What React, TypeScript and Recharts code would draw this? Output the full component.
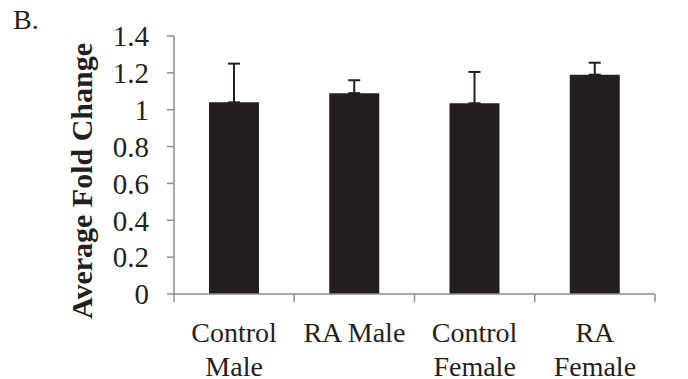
import { BarChart, Bar, XAxis, YAxis, ErrorBar } from 'recharts';

// values (panel B)
const groups = ['Control Male', 'RA Male', 'Control Female', 'RA Female'];
const groupLines = [['Control', 'Male'], ['RA Male'], ['Control', 'Female'], ['RA', 'Female']];
const foldChange = [1.04, 1.09, 1.035, 1.19];
const errorUp = [0.21, 0.07, 0.17, 0.065];
const yTicks = [0, 0.2, 0.4, 0.6, 0.8, 1, 1.2, 1.4];

const data = groups.map((group, i) => ({
  group,
  value: foldChange[i],
  err: [0, errorUp[i]]
}));

const INK = '#231f20';
const AXIS = '#8c8c8c';
const SERIF = "'Liberation Serif', serif";

function GroupTick({ x, y, index, visibleTicksCount }: any) {
  const count = visibleTicksCount ?? groups.length;
  const band = 481 / count;
  const left = x - band / 2;
  const lines = groupLines[index] ?? [];
  return (
    <g>
      <line x1={left} y1={y} x2={left} y2={y + 8} stroke={AXIS} strokeWidth={1.5} />
      {index === count - 1 && (
        <line x1={x + band / 2} y1={y} x2={x + band / 2} y2={y + 8} stroke={AXIS} strokeWidth={1.5} />
      )}
      <text x={x} y={y + 48} textAnchor='middle' fill={INK} style={{ fontFamily: SERIF, fontSize: 28 }}>
        {lines.map((line: string, i: number) => (
          <tspan key={line} x={x} dy={i === 0 ? 0 : 34}>
            {line}
          </tspan>
        ))}
      </text>
    </g>
  );
}

function AxisTitle({ viewBox }: any) {
  const vx = viewBox?.x ?? 0;
  const vy = viewBox?.y ?? 36;
  const vh = viewBox?.height ?? 258;
  const cx = vx + 92;
  const cy = vy + vh / 2 + 16;
  return (
    <text
      x={cx}
      y={cy}
      transform={`rotate(-90 ${cx} ${cy})`}
      textAnchor='middle'
      fill={INK}
      style={{ fontFamily: SERIF, fontSize: 30, fontWeight: 'bold' }}
    >
      Average Fold Change
    </text>
  );
}

export default function App() {
  return (
    <div style={{ position: 'absolute', left: 0, top: 0, width: 688, height: 379, background: '#fff', fontFamily: SERIF }}>
      <div
        style={{
          position: 'absolute',
          left: 13,
          top: 6,
          fontSize: 28,
          lineHeight: '28px',
          color: INK
        }}
      >
        B.
      </div>
      <BarChart
        width={688}
        height={379}
        data={data}
        margin={{ top: 36, right: 33, left: 0, bottom: 0 }}
        style={{ fontFamily: SERIF }}
      >
        <XAxis
          dataKey='group'
          height={85}
          interval={0}
          tickSize={0}
          tickMargin={0}
          tickLine={false}
          axisLine={{ stroke: AXIS, strokeWidth: 1.5 }}
          tick={<GroupTick />}
        />
        <YAxis
          domain={[0, 1.4]}
          ticks={yTicks}
          interval={0}
          width={174}
          tickSize={7}
          tickMargin={18}
          axisLine={{ stroke: AXIS, strokeWidth: 1.5 }}
          tickLine={{ stroke: AXIS, strokeWidth: 1.5 }}
          tick={{ fontSize: 29, fill: INK, style: { fontFamily: SERIF } }}
          label={<AxisTitle />}
        />
        <Bar dataKey='value' fill={INK} barSize={50} isAnimationActive={false}>
          <ErrorBar dataKey='err' width={6} stroke={INK} strokeWidth={2} direction='y' />
        </Bar>
      </BarChart>
    </div>
  );
}
